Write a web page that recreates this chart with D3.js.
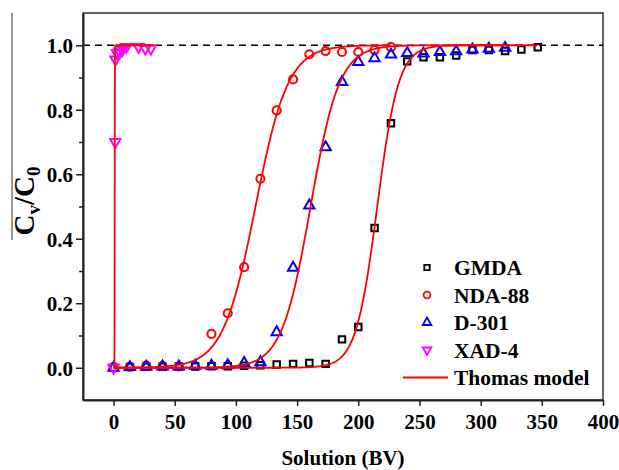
<!DOCTYPE html>
<html>
<head>
<meta charset="utf-8">
<script src="https://cdn.jsdelivr.net/npm/d3@7"></script>
<style>
  body { margin: 0; background: #fff; }
  text { font-family: "Liberation Serif", "Times New Roman", serif; font-weight: bold; fill: #000; }
</style>
</head>
<body>
<div id="chart"></div>
<script>
// breakthrough data, C/C0 vs bed volumes
const gmdaX = [0, 13.3, 26.7, 40, 53.3, 66.7, 80, 93.3, 106.7, 120, 133.3, 146.7, 160, 173.3, 186.7, 200, 213.3, 226.7, 240, 253.3, 266.7, 280, 293.3, 306.7, 320, 333.3, 346.7];
const gmdaY = [0.0, 0.002, 0.003, 0.003, 0.004, 0.004, 0.005, 0.005, 0.006, 0.008, 0.010, 0.012, 0.015, 0.012, 0.088, 0.126, 0.433, 0.758, 0.950, 0.963, 0.963, 0.968, 0.985, 0.985, 0.982, 0.987, 0.994];

const ndaX = [0, 13.3, 26.7, 40, 53.3, 80, 93.3, 106.7, 120, 133.3, 146.7, 160, 173.3, 186.7, 200, 213.3, 226.7];
const ndaY = [0.002, 0.003, 0.007, 0.005, 0.004, 0.105, 0.169, 0.312, 0.586, 0.798, 0.894, 0.972, 0.982, 0.979, 0.979, 0.985, 0.994];

const d301X = [0, 13.3, 26.7, 40, 53.3, 66.7, 80, 93.3, 106.7, 120, 133.3, 146.7, 160, 173.3, 186.7, 200, 213.3, 226.7, 240, 253.3, 266.7, 280, 293.3, 306.7, 320];
const d301Y = [0.0, 0.002, 0.003, 0.004, 0.004, 0.006, 0.006, 0.008, 0.015, 0.017, 0.110, 0.310, 0.503, 0.684, 0.886, 0.948, 0.960, 0.971, 0.976, 0.974, 0.979, 0.981, 0.987, 0.989, 0.992];

const xadX = [0, 1.4, 1.6, 2.8, 4.9, 7.1, 10.4, 20.4, 25.9, 30.5];
const xadY = [0.0, 0.70, 0.956, 0.975, 0.980, 0.985, 0.995, 0.995, 0.990, 0.990];

// Thomas model fits (logistic form): rate constant, 50% breakthrough volume, end of line
const seriesNames = ["GMDA", "NDA-88", "D-301", "XAD-4"];
const thomasK = [0.115, 0.075, 0.085, 15];
const thomasV50 = [215.5, 116, 161, 0.9];
const thomasEnd = [346.7, 226.7, 320, 33];

const xTicks = [0, 50, 100, 150, 200, 250, 300, 350, 400];
const yTicks = [0.0, 0.2, 0.4, 0.6, 0.8, 1.0];
const yMinorTicks = [0.1, 0.3, 0.5, 0.7, 0.9];

const W = 619, H = 470;
const padL = 83, padR = 603, padT = 13, padB = 400;

const svg = d3.select("#chart").append("svg")
    .attr("width", W)
    .attr("height", H);

const x = d3.scaleLinear().domain([-25, 400]).range([padL, padR]);
const y = d3.scaleLinear().domain([-0.1, 1.1]).range([padB, padT]);

// frame
svg.append("rect")
    .attr("x", padL).attr("y", padT)
    .attr("width", padR - padL).attr("height", padB - padT)
    .attr("fill", "none").attr("stroke", "#333").attr("stroke-width", 1.5);

// dashed line at C/C0 = 1
svg.append("line")
    .attr("x1", padL).attr("x2", padR)
    .attr("y1", y(1)).attr("y2", y(1))
    .attr("stroke", "#000").attr("stroke-width", 1.5)
    .attr("stroke-dasharray", "7,5");

// axes
const xAxis = svg.append("g")
    .attr("transform", `translate(0, ${padB})`)
    .call(d3.axisBottom(x).tickValues(xTicks).tickSize(6).tickSizeOuter(0).tickFormat(d3.format("d")));
xAxis.select(".domain").attr("stroke", "#222").attr("stroke-width", 2);
xAxis.selectAll(".tick line").attr("stroke", "#222").attr("stroke-width", 1.5);
xAxis.selectAll("text")
    .attr("font-size", 21).attr("dy", "0.95em")
    .style("font-family", "'Liberation Serif', serif").style("font-weight", "bold").attr("fill", "#000");

const yAxis = svg.append("g")
    .attr("transform", `translate(${padL}, 0)`)
    .call(d3.axisLeft(y).tickValues(yTicks).tickSize(7).tickPadding(3).tickSizeOuter(0).tickFormat(d3.format(".1f")));
yAxis.select(".domain").attr("stroke", "#222").attr("stroke-width", 2);
yAxis.selectAll(".tick line").attr("stroke", "#222").attr("stroke-width", 1.5);
yAxis.selectAll("text")
    .attr("font-size", 21).attr("dy", "0.35em")
    .style("font-family", "'Liberation Serif', serif").style("font-weight", "bold").attr("fill", "#000");

svg.append("g")
    .attr("transform", `translate(${padL}, 0)`)
    .call(d3.axisLeft(y).tickValues(yMinorTicks).tickSize(4).tickFormat(""))
    .call(g => g.select(".domain").remove())
    .selectAll(".tick line").attr("stroke", "#222").attr("stroke-width", 1.5);

// axis titles
svg.append("text")
    .attr("x", (padL + padR) / 2)
    .attr("y", 465)
    .attr("text-anchor", "middle")
    .attr("font-size", 21)
    .text("Solution (BV)");

const yt = svg.append("text")
    .attr("transform", "translate(34, 201) rotate(-90)")
    .attr("text-anchor", "middle")
    .attr("font-size", 29);
yt.append("tspan").text("C");
yt.append("tspan").attr("font-size", 19).attr("dy", 6).text("v");
yt.append("tspan").attr("dy", -6).text("/C");
yt.append("tspan").attr("font-size", 19).attr("dy", 6).text("0");

svg.append("line")
    .attr("x1", 12).attr("x2", 12).attr("y1", 13).attr("y2", 240)
    .attr("stroke", "#777").attr("stroke-width", 1.5);

// markers
const markers = [
    { xs: gmdaX, ys: gmdaY, type: d3.symbolSquare, size: 42, rot: 0, color: "#000" },
    { xs: ndaX, ys: ndaY, type: d3.symbolCircle, size: 52, rot: 0, color: "#ff0000" },
    { xs: d301X, ys: d301Y, type: d3.symbolTriangle, size: 46, rot: 0, color: "#0000ff" },
    { xs: xadX, ys: xadY, type: d3.symbolTriangle, size: 46, rot: 180, color: "#ff00ff" }
];

markers.forEach(m => {
    svg.append("g")
        .selectAll("path")
        .data(m.xs.map((v, i) => [v, m.ys[i]]))
        .enter()
        .append("path")
        .attr("d", d3.symbol().type(m.type).size(m.size))
        .attr("transform", d => `translate(${x(d[0])}, ${y(d[1])}) rotate(${m.rot})`)
        .attr("fill", "none")
        .attr("stroke", m.color)
        .attr("stroke-width", 2);
});

// Thomas model curves
const line = d3.line().x(d => x(d[0])).y(d => y(d[1]));
thomasK.forEach((k, i) => {
    const step = k > 1 ? 0.02 : 0.5;
    const pts = d3.range(0, thomasEnd[i] + step / 2, step)
        .map(v => [v, 1 / (1 + Math.exp(k * (thomasV50[i] - v)))]);
    svg.append("path")
        .datum(pts)
        .attr("d", line)
        .attr("fill", "none")
        .attr("stroke", "#ff0000")
        .attr("stroke-width", 1.8);
});

// legend
const legendRows = [
    { label: "GMDA", idx: 0 },
    { label: "NDA-88", idx: 1 },
    { label: "D-301", idx: 2 },
    { label: "XAD-4", idx: 3 },
    { label: "Thomas model", idx: -1 }
];
const lg = svg.append("g");
legendRows.forEach((r, j) => {
    const cy = 267.5 + j * 27.5;
    if (r.idx >= 0) {
        const m = markers[r.idx];
        lg.append("path")
            .attr("d", d3.symbol().type(m.type).size(m.size * 0.7))
            .attr("transform", `translate(427, ${cy}) rotate(${m.rot})`)
            .attr("fill", "none")
            .attr("stroke", m.color)
            .attr("stroke-width", 1.8);
    } else {
        lg.append("line")
            .attr("x1", 403).attr("x2", 448)
            .attr("y1", cy).attr("y2", cy)
            .attr("stroke", "#ff0000").attr("stroke-width", 1.8);
    }
    lg.append("text")
        .attr("x", 454)
        .attr("y", cy + 7.5)
        .attr("font-size", 21.5)
        .text(r.label);
});
</script>
</body>
</html>
